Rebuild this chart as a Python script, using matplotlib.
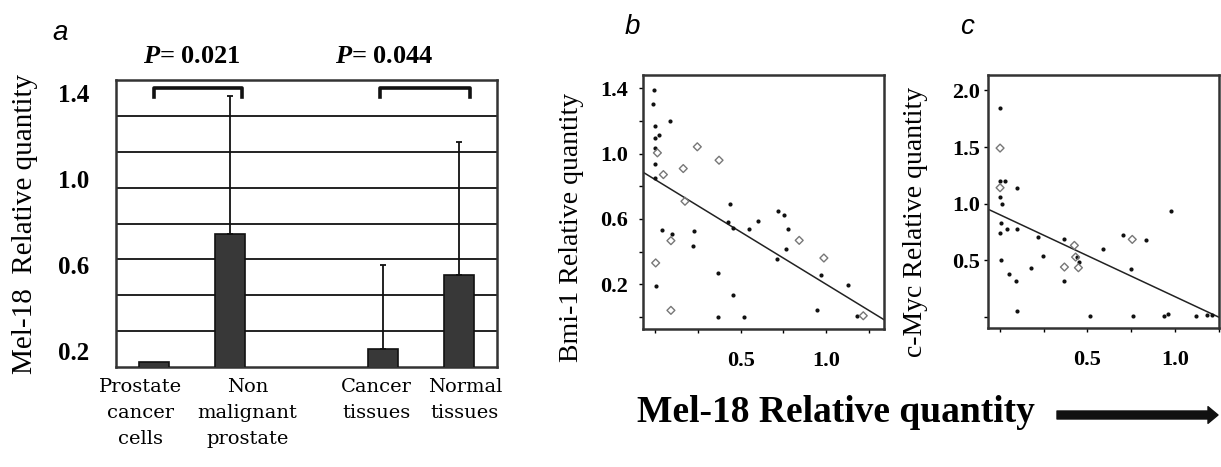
import numpy as np
import matplotlib
matplotlib.use('Agg')
import matplotlib.pyplot as plt
import matplotlib.transforms as mtrans

plt.rcParams['font.family'] = ['Liberation Serif', 'DejaVu Serif']
plt.rcParams['mathtext.fontset'] = 'custom'
plt.rcParams['mathtext.it'] = 'Liberation Serif:italic:bold'
plt.rcParams['mathtext.rm'] = 'Liberation Serif:bold'

# panel a: Mel-18 expression
bar_labels = ['Prostate\ncancer\ncells', 'Non\nmalignant\nprostate',
              'Cancer\ntissues', 'Normal\ntissues']
bar_pos = [0, 1, 3, 4]
bar_vals = [0.15, 0.745, 0.21, 0.555]
bar_err = [0.0, 0.64, 0.39, 0.615]
p_texts = ['0.021', '0.044']
p_pos = [0.5, 3.02]
brackets = [(0.0, 1.15), (2.97, 4.14)]

# panel b: Bmi-1 vs Mel-18
b_dot_x = [-0.006, -0.01, 0.0, 0.0, 0.025, 0.088, 0.0, 0.0, 0.0, 0.041, 0.10, 0.23,
           0.224, 0.004, 0.438, 0.428, 0.453, 0.55, 0.603, 0.716, 0.755, 0.778,
           0.765, 0.71, 0.37, 0.453, 0.37, 0.521, 0.944, 0.969, 1.128, 1.177]
b_dot_y = [1.388, 1.304, 1.167, 1.092, 1.116, 1.198, 1.035, 0.933, 0.851, 0.535, 0.51, 0.524,
           0.437, 0.188, 0.694, 0.582, 0.545, 0.539, 0.586, 0.651, 0.622, 0.539,
           0.416, 0.357, 0.269, 0.133, 0.0, 0.0, 0.041, 0.259, 0.198, 0.008]
b_open_x = [0.014, 0.049, 0.165, 0.247, 0.374, 0.175, 0.093, 0.004, 0.093, 0.842, 0.986, 1.216]
b_open_y = [1.004, 0.871, 0.908, 1.041, 0.959, 0.708, 0.467, 0.331, 0.041, 0.469, 0.361, 0.008]
b_fit = (0.841, -0.641)

# panel c: c-Myc vs Mel-18
c_dot_x = [0.0, 0.0, 0.03, 0.0, 0.01, 0.006, 0.0, 0.042, 0.099, 0.099, 0.006, 0.053,
           0.09, 0.099, 0.219, 0.248, 0.177, 0.366, 0.368, 0.438, 0.451, 0.514,
           0.59, 0.705, 0.747, 0.762, 0.832, 0.939, 0.962, 0.975, 1.12, 1.181, 1.21]
c_dot_y = [1.844, 1.2, 1.2, 1.06, 1.0, 0.829, 0.741, 0.779, 1.138, 0.779, 0.506, 0.376,
           0.318, 0.053, 0.706, 0.535, 0.435, 0.685, 0.318, 0.529, 0.485, 0.006,
           0.603, 0.721, 0.421, 0.006, 0.682, 0.006, 0.029, 0.935, 0.006, 0.015, 0.015]
c_open_x = [0.0, 0.0, 0.425, 0.432, 0.368, 0.448, 0.756]
c_open_y = [1.491, 1.141, 0.632, 0.529, 0.441, 0.435, 0.685]
c_fit = (0.902, -0.722)

W, H = 1221, 467
fig = plt.figure(figsize=(W / 100, H / 100), dpi=100)


def px(x, y):
    return x / W, 1 - y / H


# ---- panel a ----
ax = fig.add_axes([116 / W, 1 - 367 / H, 381 / W, 287 / H])
ylo, yhi = 0.126, 1.46
ax.bar(bar_pos, bar_vals, width=0.39, color='#383838', edgecolor='#111111', lw=1.2, zorder=3)
err_pos = [p for p, e in zip(bar_pos, bar_err) if e > 0]
err_top = [v for v, e in zip(bar_vals, bar_err) if e > 0]
err_val = [e for e in bar_err if e > 0]
ax.errorbar(err_pos, err_top, yerr=[np.zeros(len(err_val)), err_val], fmt='none',
            ecolor='#111111', elinewidth=1.3, capsize=2.5, capthick=1.3, zorder=4)
ax.set_xlim(-0.5, 4.5)
ax.set_ylim(ylo, yhi)
ax.set_yticks([0.2, 0.6, 1.0, 1.4])
ax.set_yticklabels(['0.2', '0.6', '1.0', '1.4'], fontsize=18, fontweight='bold')
ax.set_yticks(np.linspace(ylo, yhi, 9)[1:-1], minor=True)
ax.grid(True, which='minor', axis='y', color='#222222', lw=1.4)
ax.tick_params(axis='y', which='both', length=0, pad=19)
ax.set_xticks(bar_pos)
ax.set_xticklabels(bar_labels, fontsize=14, family='DejaVu Serif', linespacing=1.55)
ax.tick_params(axis='x', length=0, pad=8)
shifts = [-14, 17, -6, 6]
for lab, dx in zip(ax.get_xticklabels(), shifts):
    lab.set_transform(lab.get_transform() + mtrans.ScaledTranslation(dx / 100, 0, fig.dpi_scale_trans))
for s in ax.spines.values():
    s.set_color('#333333')
    s.set_linewidth(1.8)
for (x0, x1) in brackets:
    ax.plot([x0, x0, x1, x1], [1.38, 1.423, 1.423, 1.38], color='#111111', lw=2.6,
            solid_joinstyle='round', zorder=5)
for xp, pt in zip(p_pos, p_texts):
    ax.text(xp, 1.567, r'$P$= ' + pt, ha='center', va='center', fontsize=19,
            fontweight='bold', clip_on=False)
fig.text(*px(25, 224), 'Mel-18  Relative quantity', rotation=90, ha='center', va='center',
         fontsize=21)


def scatter_panel(rect, dx, dy, ox, oy, fit, xlim, ylim, yt, ytl, ylab_pad):
    a = fig.add_axes(rect)
    a.scatter(dx, dy, s=9, color='#111111', marker='o', lw=0, zorder=3)
    a.scatter(ox, oy, s=16, facecolor='none', edgecolor='#777777', marker='D', lw=1.0, zorder=3)
    xs = np.array(xlim)
    a.plot(xs, fit[0] + fit[1] * xs, color='#222222', lw=1.1, zorder=2)
    a.set_xlim(*xlim)
    a.set_ylim(*ylim)
    a.set_xticks([0, 0.25, 0.5, 0.75, 1.0, 1.25])
    a.set_xticklabels(['', '', '0.5', '', '1.0', ''], fontsize=16, fontweight='bold')
    a.set_yticks(yt)
    a.set_yticklabels(ytl, fontsize=16, fontweight='bold')
    a.tick_params(axis='x', length=3, width=1, pad=13, direction='out')
    a.tick_params(axis='y', length=3, width=1, pad=ylab_pad, direction='out')
    for s in a.spines.values():
        s.set_color('#333333')
        s.set_linewidth(1.8)
    return a


scatter_panel([643 / W, 1 - 329 / H, 241 / W, 254 / H], b_dot_x, b_dot_y, b_open_x, b_open_y,
              b_fit, (-0.07, 1.337), (-0.073, 1.48),
              [0, 0.2, 0.4, 0.6, 0.8, 1.0, 1.2, 1.4],
              ['', '0.2', '', '0.6', '', '1.0', '', '1.4'], 8)
scatter_panel([988 / W, 1 - 328 / H, 231 / W, 253 / H], c_dot_x, c_dot_y, c_open_x, c_open_y,
              c_fit, (-0.069, 1.252), (-0.097, 2.136),
              [0, 0.5, 1.0, 1.5, 2.0], ['', '0.5', '1.0', '1.5', '2.0'], 3)

fig.text(*px(572, 227), 'Bmi-1 Relative quantity', rotation=90, ha='center', va='center',
         fontsize=20)
fig.text(*px(916, 222), 'c-Myc Relative quantity', rotation=90, ha='center', va='center',
         fontsize=20)

fig.text(*px(836, 413), 'Mel-18 Relative quantity', ha='center', va='center',
         fontsize=27, fontweight='bold')
ax_arrow = fig.add_axes([0, 0, 1, 1], facecolor='none')
ax_arrow.set_axis_off()
ax_arrow.annotate('', xy=px(1218, 415), xytext=px(1057, 415), xycoords='figure fraction',
                  arrowprops=dict(arrowstyle='simple,head_length=0.45,head_width=0.75,tail_width=0.36',
                                  mutation_scale=16, color='#111111', shrinkA=0, shrinkB=0))

for (x, y), t in zip([(60, 33), (632, 27), (967, 27)], ['a', 'b', 'c']):
    fig.text(*px(x, y), t, ha='center', va='center', fontsize=20, style='italic',
             family='Liberation Sans')

fig.savefig('out.png', dpi=100)
